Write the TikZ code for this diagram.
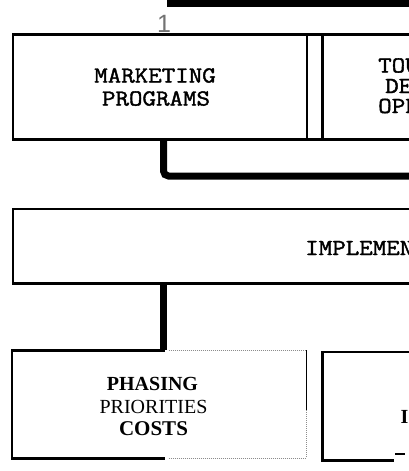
\documentclass[tikz,border=0pt]{standalone}
\usepackage{fontspec}
\setmainfont{Liberation Serif}
\newfontfamily\courierfont{Latin Modern Mono}[FakeBold=1.6]
\newfontfamily\onefont{Liberation Sans}
\usetikzlibrary{calc}

\tikzset{
  boxline/.style={line width=2.6pt, line cap=rect},
  thinline/.style={line width=1.4pt},
  faintline/.style={line width=1pt, densely dotted, black!45},
  conn/.style={line width=7pt},
  frame/.style={draw=none, rectangle, inner sep=0pt},
  mono/.style={inner sep=0pt, xscale=1.14, font=\courierfont\fontsize{23}{23}\selectfont},
  serifbold/.style={inner sep=0pt, font=\bfseries\fontsize{20}{20}\selectfont},
  serifreg/.style={inner sep=0pt, font=\fontsize{20}{20}\selectfont},
}

\begin{document}
\begin{tikzpicture}[x=1pt,y=-1pt]
\useasboundingbox (0,0) rectangle (409,471);
\fill[white] (0,0) rectangle (409,471);
\clip (0,0) rectangle (409,471);

% upper row: two boxes sharing one outer frame
\node[frame, minimum width=294pt, minimum height=104.5pt] (mkt) at (160,86.75) {};
\node[frame, minimum width=300pt, minimum height=104.5pt, anchor=west] (tour) at (322.5,86.75) {};
\draw[boxline] (mkt.north west) -- (tour.north east);
\draw[boxline] (mkt.south west) -- (tour.south east);
\draw[boxline] (mkt.north west) -- (mkt.south west);
\draw[line width=2.4pt] (mkt.north east) -- (mkt.south east);
\draw[line width=3.6pt] (tour.north west) -- (tour.south west);

% implementation bar
\node[frame, minimum width=800pt, minimum height=74pt, anchor=west] (impl) at (13,246) {};
\draw[boxline] (impl.north east) -- (impl.north west) -- (impl.south west) -- (impl.south east);

% lower row
\node[frame, minimum width=294pt, minimum height=107.5pt] (phase) at (159,404.25) {};
\node[frame, minimum width=300pt, minimum height=108pt, anchor=west] (lower) at (322.5,406) {};

% trunk line x position
\coordinate (trunk) at (163.5,0);

% phasing box: heavy left part, faint right part
\draw[boxline] (phase.north -| trunk) -- (phase.north west) -- (phase.south west) -- (phase.south -| trunk);
\draw[faintline] ($(phase.north -| trunk)+(5,0)$) -- (phase.north east);
\draw[faintline] ($(phase.south -| trunk)+(5,0)$) -- (phase.south east);
\draw[thinline] (phase.north east) -- ($(phase.north east)+(0,60)$);
\draw[faintline, line width=1.4pt] ($(phase.north east)+(0,60)$) -- (phase.south east);

% right lower box
\coordinate (lowcut) at (393,0);
\draw[boxline] (lower.north east) -- (lower.north west) -- (lower.south west) -- (lower.south -| lowcut);
\coordinate (dashA) at (395,454);
\coordinate (dashB) at (405,454);
\draw[line width=2.4pt] (dashA) -- (dashB);

% connectors
\coordinate (topA) at (167,3.5);
\coordinate (topB) at (430,3.5);
\draw[conn] (topA) -- (topB);

\coordinate (midEnd) at (430,176);
\draw[conn, rounded corners=5pt] (mkt.south -| trunk) -- (trunk |- midEnd) -- (midEnd);

\draw[conn] (impl.south -| trunk) -- (phase.north -| trunk);

% label above the upper frame
\node[inner sep=0pt, text=black!55, font=\onefont\fontsize{25}{25}\selectfont] (one) at (164,24) {1};

% texts
\node[mono] (t1) at (155,75.5) {MARKETING};
\node[mono] (t2) at (156,98.5) {PROGRAMS};

\node[mono, anchor=west] (u1) at (378,65.5) {TOU};
\node[mono, anchor=west] (u2) at (385,86) {DE};
\node[mono, anchor=west] (u3) at (378,106) {OPP};

\node[mono, anchor=west] (im) at (305,248) {IMPLEMEN};

\node[serifbold] (p1) at (152.5,383.5) {PHASING};
\node[serifreg] (p2) at (153.5,407) {PRIORITIES};
\node[serifbold, font=\bfseries\fontsize{21}{21}\selectfont] (p3) at (153.5,429) {COSTS};

\node[serifbold] (l1) at (404.5,417) {I};
\end{tikzpicture}
\end{document}
